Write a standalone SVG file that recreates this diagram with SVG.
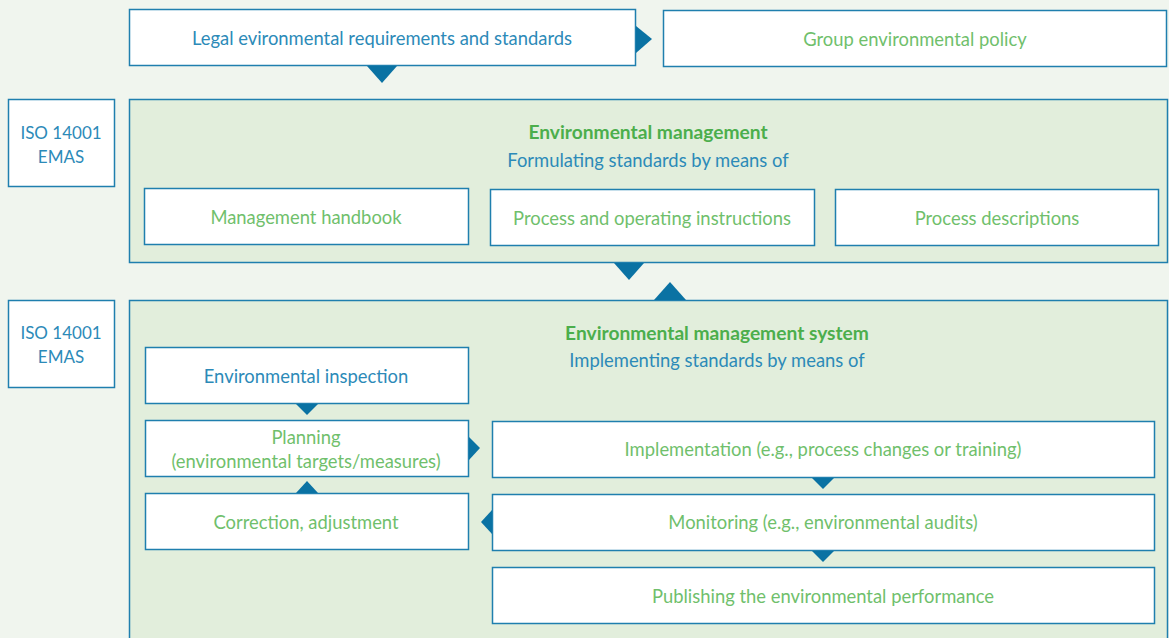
<svg xmlns="http://www.w3.org/2000/svg" width="1169" height="638" viewBox="0 0 1169 638">
<style>
.bx{fill:#ffffff;stroke:#1f7fae;stroke-width:1.5}
.pn{fill:#e2eedc;stroke:#1f7fae;stroke-width:1.5}
.ar{fill:#0a72a3}
text{font-family:Lato,"Noto Sans",sans-serif;font-size:18.4px;text-anchor:middle}
.b{fill:#2c8ab8}
.g{fill:#70bf6c}
.t{fill:#4cae4c;font-weight:bold;font-size:19.2px}
.i{font-size:17px}
</style>
<rect x="0" y="0" width="1169" height="638" fill="#f0f5ee"/>
<g id="panel-em">
<rect class="pn" x="129.5" y="99.5" width="1038" height="163"/>
<text class="t" x="648" y="139">Environmental management</text>
<text class="b" x="648" y="167">Formulating standards by means of</text>
</g>
<g id="panel-ems">
<rect class="pn" x="129.5" y="300.5" width="1038" height="345"/>
<text class="t" x="717" y="340">Environmental management system</text>
<text class="b" x="717" y="367">Implementing standards by means of</text>
</g>
<g id="legal">
<rect class="bx" x="129.5" y="9.5" width="506" height="56"/>
<text class="b" x="382" y="45">Legal evironmental requirements and standards</text>
</g>
<g id="policy">
<rect class="bx" x="663.5" y="10.5" width="503" height="56"/>
<text class="g" x="915" y="46">Group environmental policy</text>
</g>
<g id="iso1">
<rect class="bx" x="8.5" y="99.5" width="106" height="87"/>
<text class="b i" x="61" y="139">ISO 14001</text>
<text class="b i" x="61" y="163">EMAS</text>
</g>
<g id="iso2">
<rect class="bx" x="8.5" y="300.5" width="106" height="87"/>
<text class="b i" x="61" y="339">ISO 14001</text>
<text class="b i" x="61" y="363">EMAS</text>
</g>
<g id="handbook">
<rect class="bx" x="144.5" y="188.5" width="324" height="56"/>
<text class="g" x="306" y="224">Management handbook</text>
</g>
<g id="instructions">
<rect class="bx" x="490.5" y="189.5" width="324" height="56"/>
<text class="g" x="652" y="225">Process and operating instructions</text>
</g>
<g id="descriptions">
<rect class="bx" x="835.5" y="189.5" width="323" height="56"/>
<text class="g" x="997" y="225">Process descriptions</text>
</g>
<g id="inspection">
<rect class="bx" x="145.5" y="347.5" width="323" height="56"/>
<text class="b" x="306" y="383">Environmental inspection</text>
</g>
<g id="planning">
<rect class="bx" x="145.5" y="420.5" width="323" height="56"/>
<text class="g" x="306" y="444">Planning</text>
<text class="g" x="306" y="468">(environmental targets/measures)</text>
</g>
<g id="correction">
<rect class="bx" x="145.5" y="493.5" width="323" height="56"/>
<text class="g" x="306" y="529">Correction, adjustment</text>
</g>
<g id="implementation">
<rect class="bx" x="492.5" y="421.5" width="662" height="56"/>
<text class="g" x="823" y="456">Implementation (e.g., process changes or training)</text>
</g>
<g id="monitoring">
<rect class="bx" x="492.5" y="494.5" width="662" height="56"/>
<text class="g" x="823" y="529">Monitoring (e.g., environmental audits)</text>
</g>
<g id="publishing">
<rect class="bx" x="492.5" y="567.5" width="662" height="56"/>
<text class="g" x="823" y="603">Publishing the environmental performance</text>
</g>
<g id="connectors">
<polygon class="ar" points="636,26 652,39 636,53"/>
<polygon class="ar" points="367,66 397,66 382,83"/>
<polygon class="ar" points="614,263 644,263 629,280"/>
<polygon class="ar" points="654,300 686,300 670,282"/>
<polygon class="ar" points="296,404 318,404 307,415"/>
<polygon class="ar" points="469,437 480,448 469,460"/>
<polygon class="ar" points="296,493 318,493 307,481"/>
<polygon class="ar" points="492,510 481,522 492,534"/>
<polygon class="ar" points="812,478 834,478 823,489"/>
<polygon class="ar" points="812,551 834,551 823,562"/>
</g>
</svg>
